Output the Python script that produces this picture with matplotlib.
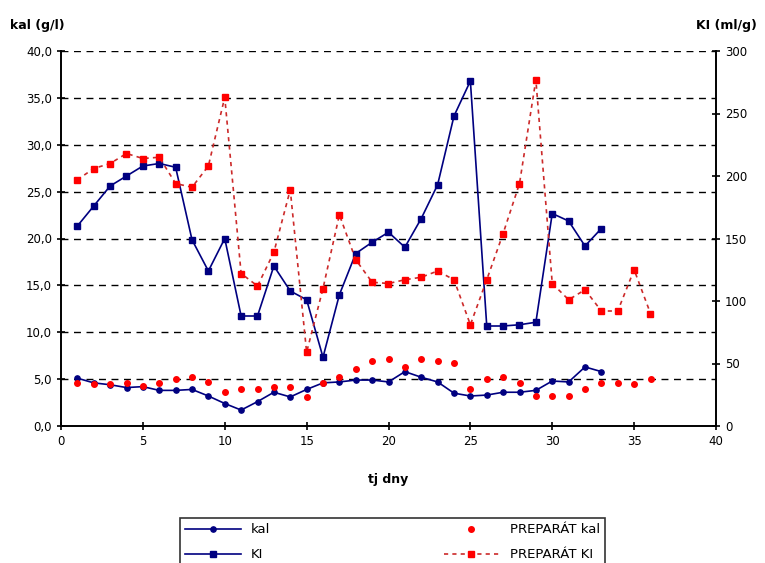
import matplotlib
matplotlib.use("Agg")
import matplotlib.pyplot as plt
from matplotlib.ticker import FuncFormatter, MultipleLocator

# ---- data ----
days_ki = list(range(1, 34))
ki = [160, 176, 192, 200, 208, 210, 207, 149, 124, 150, 88, 88, 128, 108, 101, 55,
      105, 138, 147, 155, 143, 166, 193, 248, 276, 80, 80, 81, 83, 170, 164, 144, 158]
kal = [5.1, 4.6, 4.4, 4.1, 4.2, 3.8, 3.8, 3.9, 3.2, 2.4, 1.7, 2.6, 3.6, 3.1, 3.9, 4.6,
       4.7, 4.9, 4.9, 4.7, 5.8, 5.2, 4.7, 3.5, 3.2, 3.3, 3.6, 3.6, 3.8, 4.8, 4.7, 6.3, 5.8]
days_prep = list(range(1, 37))
prep_ki = [197, 206, 210, 218, 214, 215, 194, 191, 208, 263, 122, 112, 139, 189, 59, 110,
           169, 133, 115, 114, 117, 119, 124, 117, 81, 117, 154, 194, 277, 114, 101, 109,
           92, 92, 125, 90]
prep_kal = [4.6, 4.5, 4.5, 4.6, 4.3, 4.6, 5.0, 5.2, 4.7, 3.6, 3.9, 3.9, 4.2, 4.2, 3.1, 4.6,
            5.2, 6.1, 6.9, 7.2, 6.3, 7.1, 6.9, 6.7, 3.9, 5.0, 5.2, 4.6, 3.2, 3.2, 3.2, 4.0,
            4.6, 4.6, 4.5, 5.0]

NAVY = "#000080"
RED = "#ff0000"
plt.rcParams['font.family'] = ['DejaVu Sans']

fig = plt.figure(figsize=(7.65, 5.63), dpi=100)
ax = fig.add_axes([61/765, 1-426/563, (716-61)/765, (426-51)/563])
ax2 = ax.twinx()

ax.set_xlim(0, 40)
ax.set_ylim(0, 40)
ax2.set_ylim(0, 300)

for y in range(5, 45, 5):
    ax.axhline(y, color='black', lw=1.0, ls=(0, (5, 4)), zorder=0)

l1, = ax.plot(days_ki, kal, color=NAVY, lw=1.2, marker='o', ms=3.8, label='kal', zorder=3)
l3, = ax.plot(days_prep, prep_kal, color=RED, lw=0, marker='o', ms=4, label='PREPARÁT kal', zorder=3)
l2, = ax2.plot(days_ki, ki, color=NAVY, lw=1.2, marker='s', ms=4.5, label='KI', zorder=3)
l4, = ax2.plot(days_prep, prep_ki, color='#cc2a2a', lw=1.2, ls=(0, (2.5, 2.5)), marker='s',
               ms=4.5, mfc=RED, mec=RED, label='PREPARÁT KI', zorder=3)

ax.xaxis.set_major_locator(MultipleLocator(5))
ax.yaxis.set_major_locator(MultipleLocator(5))
ax2.yaxis.set_major_locator(MultipleLocator(50))
ax.yaxis.set_major_formatter(FuncFormatter(lambda v, p: f"{v:.1f}".replace('.', ',')))

for a in (ax, ax2):
    a.spines['top'].set_visible(False)
    for s in a.spines.values():
        s.set_linewidth(1.2)
        s.set_color('black')
    a.tick_params(direction='inout', length=6, width=1.2, labelsize=8.5, colors='black')

ax.set_xlabel('tj dny', fontsize=9, fontweight='bold', labelpad=18)
fig.text(10/765, 1-26/563, 'kal (g/l)', fontsize=9, fontweight='bold', ha='left', va='center')
fig.text(757/765, 1-26/563, 'KI (ml/g)', fontsize=9, fontweight='bold', ha='right', va='center')

leg = fig.legend([l1, l2, l3, l4], ['kal', 'KI', 'PREPARÁT kal', 'PREPARÁT KI'],
                 ncol=2, loc='upper left', mode='expand',
                 bbox_to_anchor=(180/765, 0, (605-180)/765, 1-518/563),
                 borderaxespad=0, fontsize=9.5, handlelength=4.2, labelspacing=0.9,
                 frameon=True, fancybox=False, edgecolor='black')
leg.get_frame().set_linewidth(1.2)

fig.savefig('out.png', dpi=100)
